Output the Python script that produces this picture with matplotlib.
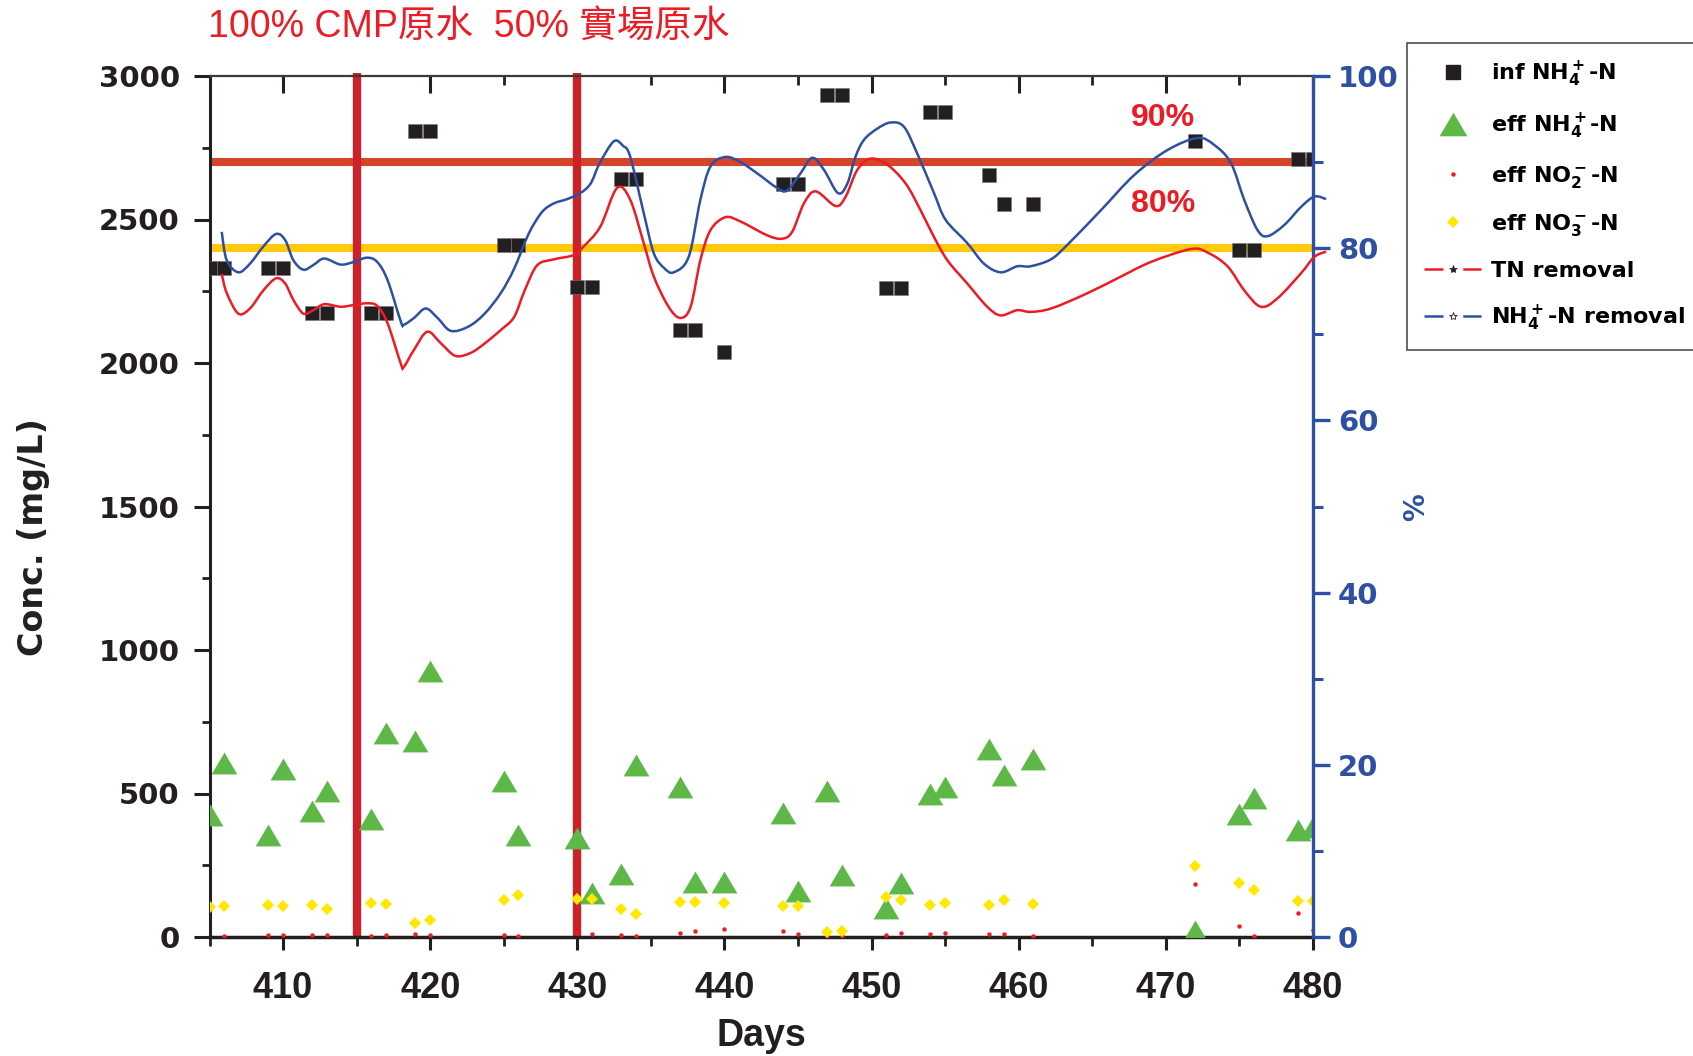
import matplotlib
matplotlib.use("Agg")
import matplotlib.pyplot as plt
from matplotlib.lines import Line2D
from matplotlib.path import Path
from matplotlib.patches import PathPatch
from matplotlib.ticker import MultipleLocator

# ---------------- data ----------------
days = [405, 406, 409, 410, 412, 413, 416, 417, 419, 420, 425, 426, 430, 431,
        433, 434, 437, 438, 440, 444, 445, 447, 448, 451, 452, 454, 455, 458,
        459, 461, 472, 475, 476, 479, 480]
inf_nh4 = [2330, 2330, 2330, 2330, 2175, 2175, 2175, 2175, 2810, 2810, 2410, 2410,
           2265, 2265, 2640, 2640, 2115, 2115, 2040, 2625, 2625, 2935, 2935, 2260,
           2260, 2875, 2875, 2655, 2555, 2555, 2775, 2395, 2395, 2710, 2710]
eff_nh4 = [424, 605, 354, 586, 439, 510, 412, 710, 682, 926, 542, 354, 345, 153,
           219, 598, 522, 193, 191, 433, 159, 510, 215, 100, 187, 500, 521, 654,
           564, 620, 20, 427, 485, 372, 385]
eff_no3 = [105, 108, 113, 108, 110, 98, 118, 116, 50, 58, 130, 145, 134, 134,
           99, 81, 122, 122, 120, 107, 108, 16, 21, 139, 128, 113, 120, 110,
           128, 116, 246, 187, 163, 125, 127]

no2_days = [406, 409, 410, 412, 413, 416, 417, 419, 420, 425, 426, 430, 431, 433,
            434, 437, 438, 440, 444, 445, 447, 448, 451, 452, 454, 455, 458, 459,
            461, 472, 475, 476, 479, 480]
eff_no2 = [5, 7, 7, 7, 7, 5, 6, 10, 7, 7, 5, 14, 12, 8, 5, 13, 20, 27, 21, 10,
           5, 5, 8, 13, 9, 13, 9, 9, 5, 186, 40, 5, 84, 26]

nh4_rm_days = [405.83, 406.17, 406.96, 407.75, 408.66, 409.52, 410.14, 410.7, 411.38,
               412.06, 412.8, 413.9, 414.8, 415.7, 416.4, 417.1, 418.0, 418.2, 418.9,
               419.7, 420.5, 421.4, 422.6, 423.7, 424.8, 425.7, 426.7, 427.6, 428.4,
               429.3, 430.2, 430.9, 431.5, 432.47, 433.1, 433.6, 434.51, 435.2, 435.9,
               436.55, 437.57, 438.36, 439.05, 440.07, 441.09, 442.22, 443.58, 444.26,
               445.17, 445.96, 446.76, 447.72, 448.35, 448.9, 449.49, 450.4, 451.3,
               452.2, 453.1, 454.24, 455.03, 456.5, 457.64, 458.77, 459.9, 460.8,
               462.18, 463.31, 465.58, 467.85, 470.11, 472.15, 473.28, 474.42, 475.33,
               476.23, 476.92, 478.05, 479.19, 480.1, 480.89]
nh4_rm = [81.9, 78.6, 77.2, 78.2, 80.2, 81.65, 80.95, 78.6, 77.5,
          78.05, 78.8, 78.1, 78.4, 78.9, 78.4, 76.3, 71.5, 71.1, 71.9,
          73.0, 71.9, 70.4, 70.9, 72.4, 74.8, 77.6, 81.7, 84.2, 85.2,
          85.7, 86.4, 87.5, 89.8, 92.4, 91.9, 90.6, 84.1, 79.4, 77.7,
          77.2, 79.0, 85.6, 89.5, 90.6, 90.0, 88.7, 87.0, 86.7,
          88.7, 90.5, 89.1, 86.4, 87.5, 90.6, 92.6, 93.9, 94.6,
          94.1, 91.0, 86.4, 83.3, 80.6, 78.2, 77.2, 77.9, 77.9,
          78.7, 80.4, 84.4, 88.5, 91.4, 92.8, 92.0, 89.9, 85.6,
          82.1, 81.4, 82.7, 84.8, 86.0, 85.7]

tn_rm_days = [405.83, 406.17, 406.96, 407.75, 408.66, 409.52, 410.14, 410.7, 411.38,
              412.06, 412.8, 413.9, 414.8, 415.7, 416.4, 417.1, 418.0, 418.2, 418.9,
              419.8, 420.7, 421.7, 422.7, 423.6, 424.8, 425.7, 426.4, 427.26, 428.39,
              429.75, 430.43, 431.56, 432.7, 433.6, 434.51, 435.2, 436.2, 437.0,
              437.7, 438.36, 439.05, 440.07, 441.09, 442.9, 443.9, 444.6, 445.4,
              446.2, 447.56, 448.24, 449.03, 449.94, 451.07, 452.32, 453.33, 454.24,
              455.15, 456.5, 457.86, 458.77, 459.9, 460.8, 462.2, 464.45, 466.71,
              468.98, 471.7, 472.83, 474.19, 475.33, 476.46, 477.6, 479.19, 480.1,
              480.89]
tn_rm = [77.0, 74.8, 72.4, 73.0, 75.1, 76.5, 75.9, 74.0, 72.4,
         72.8, 73.5, 73.2, 73.4, 73.6, 73.3, 71.3, 66.6, 66.2, 68.2,
         70.3, 69.0, 67.5, 67.8, 68.8, 70.5, 72.0, 75.0, 78.0, 78.7,
         79.2, 80.2, 82.5, 87.0, 85.6, 80.6, 76.7, 73.2, 71.9,
         73.2, 78.6, 82.1, 83.6, 83.1, 81.5, 81.1, 81.9, 85.2,
         86.6, 84.9, 86.0, 89.1, 90.4, 89.7, 87.5, 84.4, 81.3,
         78.6, 75.9, 73.2, 72.2, 72.8, 72.6, 73.0, 74.6, 76.5,
         78.4, 79.9, 79.5, 77.9, 75.1, 73.2, 74.2, 77.1, 79.0,
         79.6]

phase_days = [415, 430]
target_levels = [2700, 2400]      # 90 % and 80 % of 3000 mg/L
target_labels = ["90%", "80%"]

# ---------------- styling ----------------
C_BLACK = "#231F20"
C_GREEN = "#5DB848"
C_YELLOW = "#FFE800"
C_RED = "#ED1C24"
C_BLUE = "#2D50A2"
C_LINE90 = "#D6452A"
C_LINE80 = "#FFC90E"
C_PHASE = "#CC2128"

plt.rcParams["font.family"] = ["DejaVu Sans"]
plt.rcParams["mathtext.fontset"] = "custom"
plt.rcParams["mathtext.rm"] = "DejaVu Sans:bold"
plt.rcParams["mathtext.default"] = "rm"

ARIAL = ["Liberation Sans", "DejaVu Sans"]


def smooth_path(xs, ys):
    """Smooth curve through the given points (Catmull-Rom as cubic Beziers)."""
    pts = list(zip(xs, ys))
    verts = [pts[0]]
    codes = [Path.MOVETO]
    n = len(pts)
    for i in range(n - 1):
        p0 = pts[i - 1] if i > 0 else pts[i]
        p1 = pts[i]
        p2 = pts[i + 1]
        p3 = pts[i + 2] if i + 2 < n else pts[i + 1]
        c1 = (p1[0] + (p2[0] - p0[0]) / 6, p1[1] + (p2[1] - p0[1]) / 6)
        c2 = (p2[0] - (p3[0] - p1[0]) / 6, p2[1] - (p3[1] - p1[1]) / 6)
        verts += [c1, c2, p2]
        codes += [Path.CURVE4] * 3
    return Path(verts, codes)


W, H = 1693, 1056
fig = plt.figure(figsize=(W / 100, H / 100), dpi=100)
L, R, T, B = 209.5, 1313, 76, 937
ax = fig.add_axes([L / W, 1 - B / H, (R - L) / W, (B - T) / H])
ax2 = ax.twinx()

# triangle marker a bit wider than tall
tri = [(0, 0.85), (-1.0, -0.85), (1.0, -0.85), (0, 0.85)]

# reference lines
for lvl, col in zip(target_levels, [C_LINE90, C_LINE80]):
    ax.axhline(lvl, color=col, lw=5.8, zorder=1)
for d in phase_days:
    ax.plot([d, d], [5, 3012], color=C_PHASE, lw=6, zorder=1.2,
            solid_capstyle="butt", clip_on=False)

ax.plot(days, inf_nh4, ls="none", marker="s", ms=10, mfc=C_BLACK,
        mec="#777777", mew=0.4, zorder=3)
ax.plot(days, eff_nh4, ls="none", marker=tri, ms=18.5, mfc=C_GREEN,
        mec=C_GREEN, mew=0, zorder=3)
ax.plot(no2_days, eff_no2, ls="none", marker="o", ms=3.2, mfc=C_RED,
        mec=C_RED, mew=0, zorder=3)
ax.plot(days, eff_no3, ls="none", marker="D", ms=6.2, mfc=C_YELLOW,
        mec=C_YELLOW, mew=0, zorder=3.1)

for lvl, txt in zip(target_levels, target_labels):
    ax.text(469.8, lvl + 155, txt, color=C_RED, fontsize=23, fontweight="bold",
            family=ARIAL, ha="center", va="center", zorder=5)

# removal-efficiency curves on the right-hand axis
for xs, ys, col in [(tn_rm_days, tn_rm, C_RED), (nh4_rm_days, nh4_rm, C_BLUE)]:
    ax2.add_patch(PathPatch(smooth_path(xs, ys), fill=False, edgecolor=col,
                            lw=1.8, clip_on=False, zorder=4,
                            transform=ax2.transData))

# ---------------- axes ----------------
ax.set_xlim(405, 480)
ax.set_ylim(0, 3000)
ax2.set_ylim(0, 100)

ax.xaxis.set_minor_locator(MultipleLocator(5))
ax.yaxis.set_major_locator(MultipleLocator(500))
ax.yaxis.set_minor_locator(MultipleLocator(250))
ax2.yaxis.set_major_locator(MultipleLocator(20))
ax2.yaxis.set_minor_locator(MultipleLocator(10))
ax.set_xticks(range(410, 481, 10))

ax.spines["right"].set_visible(False)
ax.spines["left"].set_linewidth(2.2)
ax.spines["left"].set_color(C_BLACK)
ax.spines["bottom"].set_linewidth(2.5)
ax.spines["bottom"].set_color(C_BLACK)
ax.spines["top"].set_linewidth(1.6)
ax.spines["top"].set_color("#3a3a3a")
for s in ["left", "top", "bottom"]:
    ax2.spines[s].set_visible(False)
ax2.spines["right"].set_linewidth(2.4)
ax2.spines["right"].set_color(C_BLUE)

ax.tick_params(axis="y", which="major", direction="out", length=11.5, width=2.2,
               color=C_BLACK, pad=10, labelsize=21, labelcolor=C_BLACK)
ax.tick_params(axis="y", which="minor", direction="out", length=5.5, width=2.0,
               color=C_BLACK)
for lab in ax.get_yticklabels():
    lab.set_fontweight("bold")

ax.tick_params(axis="x", which="major", direction="out", length=9.5, width=2.2,
               color=C_BLACK, pad=15, labelsize=26, labelcolor=C_BLACK)
ax.tick_params(axis="x", which="minor", direction="out", length=6.5, width=2.0,
               color=C_BLACK)
for lab in ax.get_xticklabels():
    lab.set_fontweight("bold")
    lab.set_family(ARIAL)

top = ax.secondary_xaxis("top")
top.set_xticks(range(410, 481, 10))
top.xaxis.set_minor_locator(MultipleLocator(5))
top.tick_params(axis="x", which="major", direction="in", length=12, width=2.2,
                color=C_BLACK, labeltop=False)
top.tick_params(axis="x", which="minor", direction="in", length=6.5, width=2.0,
                color=C_BLACK)
top.spines["top"].set_visible(False)

ax2.tick_params(axis="y", which="major", direction="out", length=12, width=2.4,
                color=C_BLUE, pad=6, labelsize=21, labelcolor=C_BLUE)
ax2.tick_params(axis="y", which="minor", direction="out", length=7, width=2.2,
                color=C_BLUE)
for lab in ax2.get_yticklabels():
    lab.set_fontweight("bold")

# ---------------- labels ----------------
fig.text(34 / W, 1 - 537 / H, "Conc. (mg/L)", rotation=90, ha="center",
         va="center", fontsize=24, fontweight="bold", color=C_BLACK)
fig.text(761 / W, 1 - 1036 / H, "Days", ha="center", va="center", fontsize=27,
         fontweight="bold", family=ARIAL, color=C_BLACK)
fig.text(1416 / W, 1 - 507 / H, "%", rotation=90, ha="center", va="center",
         fontsize=20, fontweight="bold", color=C_BLUE)
fig.text(208 / W, 1 - 27 / H, "100% CMP原水  50% 實場原水", ha="left", va="center",
         fontsize=27, color=C_RED,
         family=["Liberation Sans", "Noto Sans CJK TC", "DejaVu Sans"])

# ---------------- legend ----------------
dash = (0, (7.6, 7.9))
handles = [
    Line2D([], [], ls="none", marker="s", ms=10, mfc=C_BLACK, mec=C_BLACK),
    Line2D([], [], ls="none", marker=tri, ms=20, mfc=C_GREEN, mec=C_GREEN, mew=0),
    Line2D([], [], ls="none", marker="o", ms=3.2, mfc=C_RED, mec=C_RED, mew=0),
    Line2D([], [], ls="none", marker="D", ms=6.2, mfc=C_YELLOW, mec=C_YELLOW, mew=0),
    Line2D([], [], color=C_RED, lw=1.8, ls=dash, marker="*", ms=6,
           mfc=C_BLACK, mec=C_BLACK, mew=0.5),
    Line2D([], [], color=C_BLUE, lw=1.8, ls=dash, marker="*", ms=6,
           mfc="white", mec=C_BLACK, mew=0.6),
]
labels = [r"inf NH$_4^+$-N", r"eff NH$_4^+$-N", r"eff NO$_2^-$-N",
          r"eff NO$_3^-$-N", "TN removal", r"NH$_4^+$-N removal"]
leg = fig.legend(handles, labels, loc="upper left",
                 bbox_to_anchor=(1407 / W, 1 - 43 / H), bbox_transform=fig.transFigure,
                 prop={"weight": "bold", "size": 16},
                 frameon=True, fancybox=False, borderpad=0.75, labelspacing=1.02,
                 handlelength=2.6, handletextpad=0.45, borderaxespad=0)
leg.get_frame().set_edgecolor(C_BLACK)
leg.get_frame().set_linewidth(1.2)

fig.savefig("out.png", dpi=100)
